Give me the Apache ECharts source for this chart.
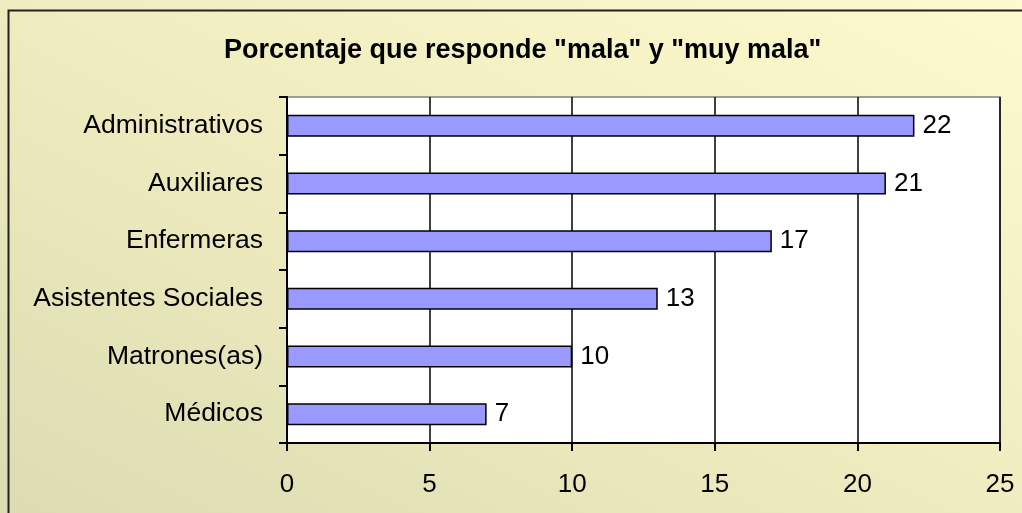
<!DOCTYPE html>
<html>
<head>
<meta charset="utf-8">
<script src="https://cdn.jsdelivr.net/npm/echarts@6/dist/echarts.min.js"></script>
<style>
  html, body { margin: 0; padding: 0; background: #ffffff; }
  #chart { width: 1022px; height: 513px; }
</style>
</head>
<body>
<div id="chart"></div>
<script>
// Survey groups, top to bottom
const categories = ['Administrativos', 'Auxiliares', 'Enfermeras', 'Asistentes Sociales', 'Matrones(as)', 'Médicos'];
// Share answering "mala" or "muy mala" (%)
const values = [22, 21, 17, 13, 10, 7];
const xTicks = [0, 5, 10, 15, 20, 25];
const titleText = 'Porcentaje que responde "mala" y "muy mala"';

const FONT = '"Liberation Sans", Arial, Helvetica, sans-serif';
const chart = echarts.init(document.getElementById('chart'), null, { renderer: 'canvas' });

chart.setOption({
  animation: false,
  // pale parchment fill, darker toward the lower-left corner
  backgroundColor: {
    type: 'linear', global: true,
    x: 305, y: 666, x2: 717, y2: -154,
    colorStops: [
      { offset: 0, color: '#dcdbb2' },
      { offset: 0.5, color: '#efedbf' },
      { offset: 1, color: '#fdfbcd' }
    ]
  },
  graphic: [
    {
      type: 'rect',
      shape: { x: 8.5, y: 10.5, width: 1030, height: 520 },
      style: { fill: 'none', stroke: '#222222', lineWidth: 2 },
      silent: true
    }
  ],
  title: {
    text: titleText,
    left: 219,
    top: 32,
    textStyle: { fontFamily: FONT, fontSize: 27, fontWeight: 'bold', color: '#000000' }
  },
  grid: {
    left: 287, right: 22, top: 97, bottom: 70,
    show: true,
    backgroundColor: '#ffffff',
    borderColor: '#808080',
    borderWidth: 1.5
  },
  xAxis: {
    type: 'value',
    min: xTicks[0],
    max: xTicks[xTicks.length - 1],
    interval: 5,
    axisLine: { show: true, lineStyle: { color: '#000000', width: 2 } },
    axisTick: { show: true, length: 8, lineStyle: { color: '#000000', width: 2 } },
    splitLine: { show: true, lineStyle: { color: '#000000', width: 1.5 } },
    axisLabel: { fontFamily: FONT, fontSize: 26, color: '#000000', margin: 29 }
  },
  yAxis: {
    type: 'category',
    data: categories,
    inverse: true,
    axisLine: { show: true, lineStyle: { color: '#000000', width: 2 } },
    axisTick: { show: true, length: 8, lineStyle: { color: '#000000', width: 2 } },
    axisLabel: { fontFamily: FONT, fontSize: 26.5, color: '#000000', margin: 24 }
  },
  series: [{
    type: 'bar',
    data: values,
    barWidth: 22,
    itemStyle: { color: '#9999ff', borderColor: '#000000', borderWidth: 1.5 },
    label: {
      show: true,
      position: 'right',
      distance: 8,
      fontFamily: FONT,
      fontSize: 26,
      color: '#000000'
    }
  }]
});
</script>
</body>
</html>
